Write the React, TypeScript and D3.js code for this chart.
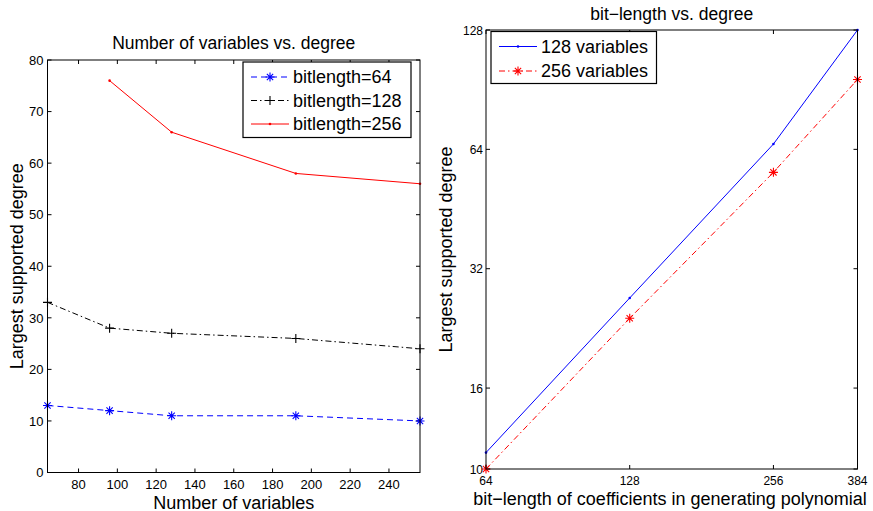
import React from 'react';
import * as d3 from 'd3';

// left panel: number of variables vs degree
const varCounts = [64, 96, 128, 192, 256];
const deg64 = [13, 12, 11, 11, 10];
const deg128 = [33, 28, 27, 26, 24];
const varCounts256 = [96, 128, 192, 256];
const deg256 = [76, 66, 58, 56];
const leftXTicks = [80, 100, 120, 140, 160, 180, 200, 220, 240];
const leftYTicks = [0, 10, 20, 30, 40, 50, 60, 70, 80];

// right panel: bit-length vs degree (log2 axes)
const bitLengths = [64, 128, 256, 384];
const degVars128 = [11, 27, 66, 128];
const degVars256 = [10, 24, 56, 96];
const rightXTicks = [64, 128, 256, 384];
const rightYTicks = [10, 16, 32, 64, 128];

const FONT = '"Liberation Sans", Arial, Helvetica, sans-serif';
const DASH = '6 4';
const DASHDOT = '6 3 1.5 3';

type Marker = 'star' | 'plus' | 'dot';

function MarkerShape({ kind, x, y, color }: { kind: Marker; x: number; y: number; color: string }) {
  const r = 4.5;
  if (kind === 'dot') return <circle cx={x} cy={y} r={1.3} fill={color} />;
  const d = kind === 'plus'
    ? `M${x - r},${y}H${x + r}M${x},${y - r}V${y + r}`
    : `M${x - r},${y}H${x + r}M${x},${y - r}V${y + r}M${x - r * 0.7},${y - r * 0.7}L${x + r * 0.7},${y + r * 0.7}M${x - r * 0.7},${y + r * 0.7}L${x + r * 0.7},${y - r * 0.7}`;
  return <path d={d} stroke={color} strokeWidth={1.1} fill="none" />;
}

interface Series { xs: number[]; ys: number[]; color: string; dash?: string; marker: Marker; label: string; }

function Series({ s, x, y }: { s: Series; x: (v: number) => number; y: (v: number) => number }) {
  const line = d3.line<number>().x((_, i) => x(s.xs[i])).y(v => y(v));
  return (
    <g>
      <path d={line(s.ys) ?? ''} fill="none" stroke={s.color} strokeWidth={1} strokeDasharray={s.dash} />
      {s.ys.map((v, i) => <MarkerShape key={i} kind={s.marker} x={x(s.xs[i])} y={y(v)} color={s.color} />)}
    </g>
  );
}

function Legend({ items, x0, y0, w, h, rowGap }: { items: Series[]; x0: number; y0: number; w: number; h: number; rowGap: number }) {
  return (
    <g>
      <rect x={x0} y={y0} width={w} height={h} fill="#fff" stroke="#000" strokeWidth={1.2} />
      {items.map((s, i) => {
        const cy = y0 + 15 + i * rowGap;
        return (
          <g key={s.label}>
            <line x1={x0 + 8} x2={x0 + 46} y1={cy} y2={cy} stroke={s.color} strokeWidth={1} strokeDasharray={s.dash} />
            <MarkerShape kind={s.marker} x={x0 + 27} y={cy} color={s.color} />
            <text x={x0 + 50} y={cy + 6} fontSize={18} fontFamily={FONT}>{s.label}</text>
          </g>
        );
      })}
    </g>
  );
}

function Frame({ l, t, r, b }: { l: number; t: number; r: number; b: number }) {
  return <rect x={l} y={t} width={r - l} height={b - t} fill="none" stroke="#000" strokeWidth={1} />;
}

export default function App() {
  // left plot area
  const L = { l: 47.5, t: 60, r: 420, b: 472.5 };
  const lx = d3.scaleLinear().domain([64, 256]).range([L.l, L.r]);
  const ly = d3.scaleLinear().domain([0, 80]).range([L.b, L.t]);

  // right plot area
  const R = { l: 486, t: 30, r: 857.5, b: 469 };
  const rx = d3.scaleLog().base(2).domain([64, 384]).range([R.l, R.r]);
  const ry = d3.scaleLog().base(2).domain([10, 128]).range([R.b, R.t]);

  const leftSeries: Series[] = [
    { xs: varCounts, ys: deg64, color: '#0000ff', dash: DASH, marker: 'star', label: 'bitlength=64' },
    { xs: varCounts, ys: deg128, color: '#000000', dash: DASHDOT, marker: 'plus', label: 'bitlength=128' },
    { xs: varCounts256, ys: deg256, color: '#ff0000', marker: 'dot', label: 'bitlength=256' },
  ];
  const rightSeries: Series[] = [
    { xs: bitLengths, ys: degVars128, color: '#0000ff', marker: 'dot', label: '128 variables' },
    { xs: bitLengths, ys: degVars256, color: '#ff0000', dash: DASHDOT, marker: 'star', label: '256 variables' },
  ];

  const tk = 4;
  return (
    <div style={{ position: 'absolute', left: 0, top: 0 }}>
      <svg width={873} height={511} style={{ display: 'block', background: '#fff' }}>
        {/* ---- left panel ---- */}
        <text x={(L.l + L.r) / 2} y={49} textAnchor="middle" fontSize={17.5} fontFamily={FONT}>Number of variables vs. degree</text>
        {leftXTicks.map(v => (
          <g key={'lx' + v}>
            <line x1={lx(v)} x2={lx(v)} y1={L.b} y2={L.b - tk} stroke="#000" />
            <line x1={lx(v)} x2={lx(v)} y1={L.t} y2={L.t + tk} stroke="#000" />
            <text x={lx(v)} y={L.b + 16.5} textAnchor="middle" fontSize={13} fontFamily={FONT}>{v}</text>
          </g>
        ))}
        {leftYTicks.map(v => (
          <g key={'ly' + v}>
            <line x1={L.l} x2={L.l + tk} y1={ly(v)} y2={ly(v)} stroke="#000" />
            <line x1={L.r} x2={L.r - tk} y1={ly(v)} y2={ly(v)} stroke="#000" />
            <text x={L.l - 4} y={ly(v) + 4.7} textAnchor="end" fontSize={13} fontFamily={FONT}>{v}</text>
          </g>
        ))}
        {leftSeries.map(s => <Series key={s.label} s={s} x={lx} y={ly} />)}
        <Frame {...L} />
        <Legend items={leftSeries} x0={243} y0={62} w={168} h={75.5} rowGap={23.5} />
        <text x={(L.l + L.r) / 2} y={508.5} textAnchor="middle" fontSize={18} fontFamily={FONT}>Number of variables</text>
        <text transform={`translate(23,${(L.t + L.b) / 2}) rotate(-90)`} textAnchor="middle" fontSize={18} fontFamily={FONT}>Largest supported degree</text>

        {/* ---- right panel ---- */}
        <text x={(R.l + R.r) / 2} y={20} textAnchor="middle" fontSize={17.5} fontFamily={FONT}>bit−length vs. degree</text>
        {rightXTicks.map(v => (
          <g key={'rx' + v}>
            <line x1={rx(v)} x2={rx(v)} y1={R.b} y2={R.b - tk} stroke="#000" />
            <line x1={rx(v)} x2={rx(v)} y1={R.t} y2={R.t + tk} stroke="#000" />
            <text x={rx(v)} y={R.b + 16} textAnchor="middle" fontSize={12} fontFamily={FONT}>{v}</text>
          </g>
        ))}
        {rightYTicks.map(v => (
          <g key={'ry' + v}>
            <line x1={R.l} x2={R.l + tk} y1={ry(v)} y2={ry(v)} stroke="#000" />
            <line x1={R.r} x2={R.r - tk} y1={ry(v)} y2={ry(v)} stroke="#000" />
            <text x={R.l - 3} y={ry(v) + 4.5} textAnchor="end" fontSize={12} fontFamily={FONT}>{v}</text>
          </g>
        ))}
        {rightSeries.map(s => <Series key={s.label} s={s} x={rx} y={ry} />)}
        <Frame {...R} />
        <Legend items={rightSeries} x0={491} y0={31.5} w={165.5} h={52} rowGap={24.5} />
        <text x={670} y={504.5} textAnchor="middle" fontSize={18} fontFamily={FONT}>bit−length of coefficients in generating polynomial</text>
        <text transform={`translate(452,${(R.t + R.b) / 2}) rotate(-90)`} textAnchor="middle" fontSize={18} fontFamily={FONT}>Largest supported degree</text>
      </svg>
    </div>
  );
}
